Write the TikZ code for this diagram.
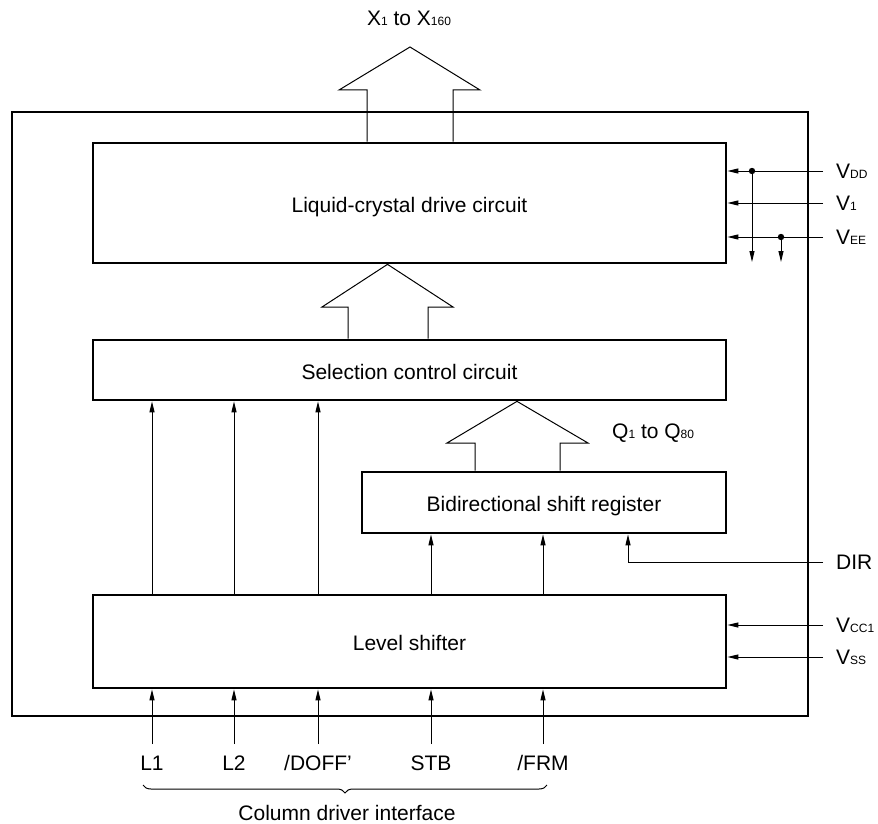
\documentclass[tikz,border=0pt]{standalone}
\usepackage{fontspec}
\setmainfont{Liberation Sans}
\usetikzlibrary{arrows.meta,decorations.pathreplacing,calc}
\newcommand\sbs[1]{{\fontsize{12}{13}\selectfont #1}}
\begin{document}
\begin{tikzpicture}[x=1pt,y=-1pt,
  font=\fontsize{21}{25}\selectfont,
  box/.style={draw,line width=2.7pt,inner sep=0pt,text height=18pt,text depth=0pt},
  thinline/.style={line width=1pt},
  arr/.style={line width=1pt,-{Triangle[length=11pt,width=5pt]}},
  rlbl/.style={inner sep=0pt,anchor=west},
  blbl/.style={inner sep=0pt,anchor=base}]
\useasboundingbox (0,0) rectangle (878,824);
% outer chip
\node[box,minimum width=796pt,minimum height=604pt] (chip) at (410,414) {};
% blocks
\node[box,minimum width=633pt,minimum height=120pt] (lcd) at (409.5,203) {Liquid-crystal drive circuit};
\node[box,minimum width=633pt,minimum height=60pt] (sel) at (409.5,370) {Selection control circuit};
\node[box,minimum width=364pt,minimum height=61pt] (bsr) at (544,502.5) {Bidirectional shift register};
\node[box,minimum width=633pt,minimum height=93pt] (lvl) at (409.5,641.5) {Level shifter};
% labels
\node[blbl] (xout) at (409,26) {X\sbs{1} to X\sbs{160}};
\node[rlbl] (qlbl) at (612,433) {Q\sbs{1} to Q\sbs{80}};
% hollow bus arrows
\draw[thinline] (367,0 |- lcd.north) -- (367,90) -- (339,90) -- (410,47) -- (480,90) -- (453,90) -- (453,0 |- lcd.north);
\draw[thinline] (348,0 |- sel.north) -- (348,307) -- (322,307) -- (387.5,0 |- lcd.south) -- (453,307) -- (428,307) -- (428,0 |- sel.north);
\draw[thinline] (475,0 |- bsr.north) -- (475,443) -- (447,443) -- (517,0 |- sel.south) -- (588,443) -- (560,443) -- (560,0 |- bsr.north);
% right-side power pins
\node[rlbl] (tVDD) at (836,171) {V\sbs{DD}};
\node[rlbl] (tV1) at (836,203) {V\sbs{1}};
\node[rlbl] (tVEE) at (836,237) {V\sbs{EE}};
\node[rlbl] (tDIR) at (836,562) {DIR};
\node[rlbl] (tVCC) at (836,625) {V\sbs{CC1}};
\node[rlbl] (tVSS) at (836,657) {V\sbs{SS}};
\coordinate (pVDD) at (823,171);
\coordinate (pV1) at (823,203);
\coordinate (pVEE) at (823,237);
\coordinate (pDIR) at (823,562);
\coordinate (pVCC) at (823,625);
\coordinate (pVSS) at (823,657);
\draw[arr] (pVDD) -- (lcd.east |- pVDD);
\draw[arr] (pV1) -- (lcd.east |- pV1);
\draw[arr] (pVEE) -- (lcd.east |- pVEE);
\coordinate (jVDD) at (752,171);
\coordinate (jVEE) at (781,237);
\coordinate (eVDD) at (752,262);
\coordinate (eVEE) at (781,262);
\fill (jVDD) circle (3.2pt);
\fill (jVEE) circle (3.2pt);
\draw[arr] (jVDD) -- (eVDD);
\draw[arr] (jVEE) -- (eVEE);
\draw[arr] (pDIR) -- (628,562) -- (628,0 |- bsr.south);
\draw[arr] (pVCC) -- (lvl.east |- pVCC);
\draw[arr] (pVSS) -- (lvl.east |- pVSS);
% internal arrows
\foreach \x in {152,234,318} \draw[arr] (\x,0 |- lvl.north) -- (\x,0 |- sel.south);
\foreach \x in {431,543} \draw[arr] (\x,0 |- lvl.north) -- (\x,0 |- bsr.south);
% bottom pins
\node[blbl] (tL1) at (152,770) {L1};
\node[blbl] (tL2) at (234,770) {L2};
\node[blbl] (tDOFF) at (318,770) {/DOFF'};
\node[blbl] (tSTB) at (431,770) {STB};
\node[blbl] (tFRM) at (543,770) {/FRM};
\foreach \n/\x in {L1/152,L2/234,DOFF/318,STB/431,FRM/543} {
  \coordinate (p\n) at (\x,744);
  \draw[arr] (p\n) -- (p\n |- lvl.south);
}
\coordinate (brR) at (547,785);
\coordinate (brL) at (143,785);
\draw[thinline,decorate,decoration={brace,amplitude=8pt}] (brR) -- (brL);
\node[blbl] (cdi) at (347,820) {Column driver interface};
\end{tikzpicture}
\end{document}
